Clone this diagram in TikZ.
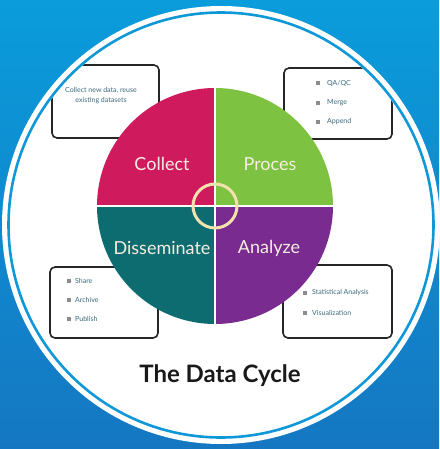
\documentclass[tikz,border=0pt]{standalone}
\usepackage{fontspec}
\setmainfont{Lato}
\definecolor{bgtop}{HTML}{0A9CDB}
\definecolor{bgbot}{HTML}{1577C2}
\definecolor{ringblue}{HTML}{0E98D8}
\definecolor{cCollect}{HTML}{CF1A5E}
\definecolor{cProces}{HTML}{7EC242}
\definecolor{cDissem}{HTML}{0D6C70}
\definecolor{cAnalyze}{HTML}{7A2B8F}
\definecolor{cream}{HTML}{F4E2AE}
\definecolor{labeltxt}{HTML}{F7EEE2}
\definecolor{boxtxt}{HTML}{3C6A7E}
\definecolor{bulletgray}{HTML}{8C8C8C}
\tikzset{
  infobox/.style={draw=black!85, line width=1.6pt, rounded corners=5pt, fill=white},
  quadlabel/.style={text=labeltxt, font=\fontsize{18}{20}\selectfont, inner sep=0pt},
  itemtxt/.style={text=boxtxt, font=\fontsize{7}{8}\selectfont, anchor=west, inner sep=0pt},
  bullet/.style={fill=bulletgray, minimum width=4.5pt, minimum height=3.5pt, inner sep=0pt},
}
\begin{document}
\begin{tikzpicture}[x=1pt,y=-1pt]
\useasboundingbox (0,0) rectangle (439,449);
% background
\shade[top color=bgtop, bottom color=bgbot] (0,0) rectangle (439,449);
% white disc
\fill[white] (221,225) circle[radius=219];
% content clipped to inside of ring
\begin{scope}
\clip (221,225) circle[radius=211];
% boxes
\node[infobox, minimum width=107pt, minimum height=73pt] (b1) at (105.5,101.5) {};
\node[infobox, minimum width=108pt, minimum height=71pt] (b2) at (338,103.5) {};
\node[infobox, minimum width=108pt, minimum height=71pt] (b3) at (104,302.5) {};
\node[infobox, minimum width=109pt, minimum height=73pt] (b4) at (337.5,301.5) {};
\end{scope}
% box texts
\node[text=boxtxt, font=\fontsize{7}{8}\selectfont, align=center, inner sep=0pt] (t1) at (101,95.5) {Collect new data, reuse\\[2pt]existing datasets};
\node[bullet] (q1) at (318,83) {};
\node[itemtxt] (q1t) at (327,83) {QA/QC};
\node[bullet] (q2) at (318,103) {};
\node[itemtxt] (q2t) at (327,103) {Merge};
\node[bullet] (q3) at (318,122) {};
\node[itemtxt] (q3t) at (327,122) {Append};
\node[bullet] (s1) at (69,281) {};
\node[itemtxt] (s1t) at (75,281) {Share};
\node[bullet] (s2) at (69,300) {};
\node[itemtxt] (s2t) at (75,300) {Archive};
\node[bullet] (s3) at (69,319) {};
\node[itemtxt] (s3t) at (75,319) {Publish};
\node[bullet] (a1) at (305,293) {};
\node[itemtxt] (a1t) at (312,293) {Statistical Analysis};
\node[bullet] (a2) at (305,313) {};
\node[itemtxt] (a2t) at (312,313) {Visualization};
% pie
\begin{scope}
\clip (215,206) circle[radius=118];
\fill[cCollect] (90,80) rectangle (215,206);
\fill[cProces] (215,80) rectangle (340,206);
\fill[cDissem] (90,206) rectangle (215,330);
\fill[cAnalyze] (215,206) rectangle (340,330);
\draw[white, line width=2.4pt] (90,206) -- (340,206);
\draw[white, line width=2.4pt] (215,80) -- (215,330);
\end{scope}
\node[circle, draw=cream, line width=3pt, minimum size=44pt, inner sep=0pt] (hub) at (215,206) {};
% labels
\node[quadlabel] (lc) at (162,164) {Collect};
\node[quadlabel] (lp) at (270,164) {Proces};
\node[quadlabel] (ld) at (162,248) {Disseminate};
\node[quadlabel] (la) at (269,248) {Analyze};
% title
\node[font=\fontsize{24}{27}\bfseries\selectfont, text=black!90, inner sep=0pt] (title) at (220,376) {The Data Cycle};
% ring
\draw[ringblue, line width=2.6pt] (221,225) circle[radius=212.5];
\end{tikzpicture}
\end{document}
